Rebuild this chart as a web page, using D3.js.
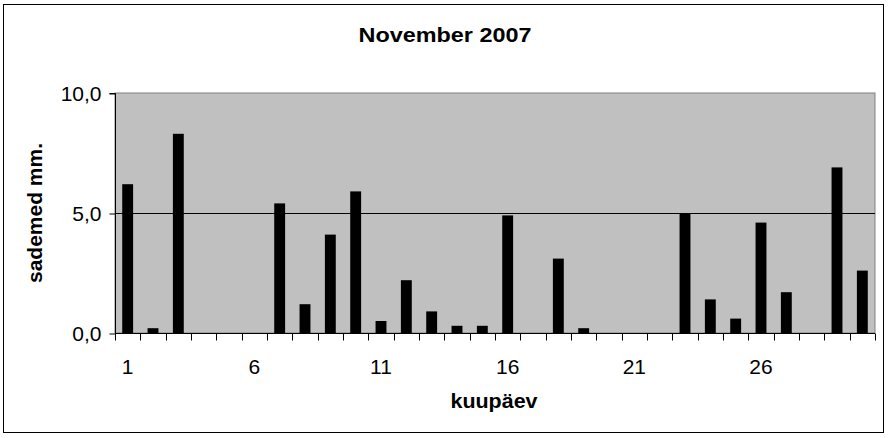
<!DOCTYPE html>
<html><head><meta charset="utf-8">
<script src="https://cdn.jsdelivr.net/npm/d3@7"></script>
<style>body{margin:0;background:#fff}svg{display:block}text{font-family:Arial,"Liberation Sans",sans-serif}</style>
</head><body><svg id="c" width="890" height="438"></svg>
<script>
const days = d3.range(1, 31);
const values = [6.2,0.2,8.3,0,0,0,5.4,1.2,4.1,5.9,0.5,2.2,0.9,0.3,0.3,4.9,0,3.1,0.2,0,0,0,5.0,1.4,0.6,4.6,1.7,0,6.9,2.6];
const xTickLabels = [1,6,11,16,21,26];
const yTicks = [0,5,10];
const title = "November 2007";
const xTitle = "kuupäev";
const yTitle = "sademed mm.";

const svg = d3.select("#c");
const L = 115, R = 875, T = 93, B = 333;
const x = d3.scaleBand().domain(days).range([L, R]).paddingInner(0.57).paddingOuter(0.285);
const xb = d3.scaleBand().domain(days).range([L, R]);
const y = d3.scaleLinear().domain([0, 10]).range([B, T]);

svg.append("rect").attr("x",3.5).attr("y",4.5).attr("width",880).attr("height",428)
  .attr("fill","#fff").attr("stroke","#000").attr("stroke-width",1);

svg.append("rect").attr("x",L).attr("y",T).attr("width",R-L).attr("height",B-T)
  .attr("fill","#c0c0c0").attr("stroke","#808080").attr("stroke-width",1);

// gridline
svg.append("g").selectAll("line").data(yTicks.filter(d=>d>0&&d<10)).join("line")
  .attr("x1",L).attr("x2",R).attr("y1",d=>Math.round(y(d))+0.5).attr("y2",d=>Math.round(y(d))+0.5)
  .attr("stroke","#000");

// bars
svg.append("g").selectAll("rect").data(days).join("rect")
  .attr("x",d=>x(d)).attr("width",x.bandwidth())
  .attr("y",(d,i)=>y(values[i])).attr("height",(d,i)=>B-y(values[i]))
  .attr("fill","#000");

// y axis
const yAxis = d3.axisLeft(y).tickValues(yTicks).tickSize(6).tickPadding(8)
  .tickFormat(d=>d3.format(".1f")(d).replace(".",","));
const gy = svg.append("g").attr("transform",`translate(${L+0.5},0.5)`).call(yAxis);
gy.select(".domain").attr("stroke","#000").attr("d",`M-6,${T}H0V${B}`);
gy.selectAll("text").attr("font-size",21).attr("fill","#000").attr("font-family","Arial, 'Liberation Sans', sans-serif");

// x axis
const xAxis = d3.axisBottom(xb).tickValues([]).tickSizeOuter(0);
const gx = svg.append("g").attr("transform",`translate(0,${B+0.5})`).call(xAxis);
gx.select(".domain").attr("stroke","#000").attr("d",`M${L},0H${R}`);
gx.selectAll("line.tk").data(days.concat([31])).join("line").attr("class","tk")
  .attr("x1",d=>Math.round(d<=30?xb(d):R)+0.5).attr("x2",d=>Math.round(d<=30?xb(d):R)+0.5)
  .attr("y1",0).attr("y2",7).attr("stroke","#000");
gx.selectAll("text.lb").data(xTickLabels).join("text").attr("class","lb")
  .attr("x",d=>xb(d)+xb.bandwidth()/2).attr("y",40).attr("text-anchor","middle")
  .attr("font-size",21).attr("fill","#000").text(d=>d);

svg.append("text").attr("x",445).attr("y",42).attr("text-anchor","middle")
  .attr("font-size",21).attr("font-weight","bold")
  .attr("textLength",173).attr("lengthAdjust","spacingAndGlyphs").text(title);
svg.append("text").attr("x",494).attr("y",408).attr("text-anchor","middle")
  .attr("font-size",21).attr("font-weight","bold")
  .attr("textLength",87).attr("lengthAdjust","spacingAndGlyphs").text(xTitle);
svg.append("text").attr("transform","translate(42,213) rotate(-90)").attr("text-anchor","middle")
  .attr("font-size",20).attr("font-weight","bold")
  .attr("textLength",140).attr("lengthAdjust","spacingAndGlyphs").text(yTitle);
</script></body></html>
